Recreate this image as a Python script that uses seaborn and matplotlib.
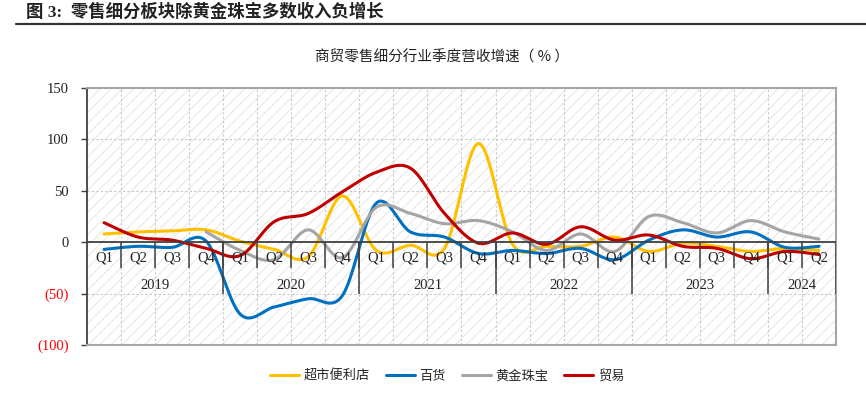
import numpy as np
import pandas as pd
import seaborn as sns
import matplotlib.pyplot as plt
from matplotlib.patches import Rectangle
from matplotlib.lines import Line2D

# quarterly revenue growth (%), Q1 2019 - Q2 2024
quarters = ["Q1", "Q2", "Q3", "Q4"] * 5 + ["Q1", "Q2"]
years = ["2019", "2020", "2021", "2022", "2023", "2024"]
supermarket = [8, 10, 11, 12, 1, -7, -14, 45, -8, -3, -6, 96, -2, -4, -4, 5, -9, -1, -4, -9, -6, -8]
department = [-7, -4, -5, 1, -70, -63, -55, -52, 38, 10, 5, -11, -8, -11, -6, -17, 2, 12, 5, 10, -5, -4]
jewelry = [np.nan, np.nan, np.nan, 10, -8, -17, 12, -15, 34, 28, 18, 21, 10, -8, 8, -9, 25, 19, 9, 21, 10, 3]
trade = [19, 5, 2, -6, -13, 20, 28, 49, 68, 72, 28, -1, 9, -2, 15, 2, 7, -4, -6, -16, -9, -12]

series_names = ["超市便利店", "百货", "黄金珠宝", "贸易"]
colors = ["#FFC000", "#0070C0", "#A5A5A5", "#C00000"]


def smooth(xs, ys, n=30):
    # excel-like smoothed line (bezier through the points)
    xs = np.asarray(xs, float)
    ys = np.asarray(ys, float)
    p = np.column_stack([xs, ys])
    out = []
    for i in range(len(p) - 1):
        p0 = p[i - 1] if i > 0 else p[i]
        p3 = p[i + 2] if i + 2 < len(p) else p[i + 1]
        c1 = p[i] + (p[i + 1] - p0) / 6
        c2 = p[i + 1] - (p3 - p[i]) / 6
        t = np.linspace(0, 1, n)[:, None]
        seg = ((1 - t) ** 3) * p[i] + 3 * ((1 - t) ** 2) * t * c1 + 3 * (1 - t) * t ** 2 * c2 + t ** 3 * p[i + 1]
        out.append(seg if i == 0 else seg[1:])
    out = np.vstack(out)
    return out[:, 0], out[:, 1]


sns.set_theme(style="white")
plt.rcParams["font.family"] = ["Liberation Serif", "Noto Sans CJK SC"]
plt.rcParams["hatch.color"] = "#e6e6e6"
plt.rcParams["hatch.linewidth"] = 0.7

fig = plt.figure(figsize=(8.66, 3.96), dpi=100)
ax = fig.add_axes([87 / 866, 1 - 345 / 396, (836 - 87) / 866, (345 - 88) / 396])

ax.add_patch(Rectangle((0, 0), 1, 1, transform=ax.transAxes, facecolor="white",
                       edgecolor="#e6e6e6", hatch="///", linewidth=0, zorder=0))

n = len(quarters)
ax.set_xlim(-0.5, n - 0.5)
ax.set_ylim(-100, 150)

# grid
for yv in [-50, 50, 100]:
    ax.axhline(yv, color="#c8c8c8", lw=0.8, ls=(0, (2, 2)), zorder=1)
for xv in np.arange(0.5, n - 0.5, 1):
    ax.axvline(xv, color="#c8c8c8", lw=0.8, ls=(0, (2, 2)), zorder=1)

data = [supermarket, department, jewelry, trade]
for name, vals, c in zip(series_names, data, colors):
    df = pd.DataFrame({"x": np.arange(n), "y": vals}).dropna()
    sx, sy = smooth(df["x"], df["y"])
    sns.lineplot(x=sx, y=sy, ax=ax, color=c, lw=2.2, sort=False, estimator=None, zorder=3, label=name)

# zero axis with category labels
ax.axhline(0, color="#404040", lw=1.3, zorder=4)
for i, q in enumerate(quarters):
    ax.text(i, -15.5, q, ha="center", va="center", fontsize=10.5, color="#222222", zorder=5)
ax.vlines(np.arange(0.5, n - 0.5, 1), -25, 0, color="#404040", lw=1.1, zorder=4)
ax.vlines([3.5, 7.5, 11.5, 15.5, 19.5, n - 0.5], -50, 0, color="#404040", lw=1.1, zorder=4)
starts = [0, 4, 8, 12, 16, 20]
ends = [3, 7, 11, 15, 19, 21]
for yr, s, e in zip(years, starts, ends):
    ax.text((s + e) / 2, -42, yr, ha="center", va="center", fontsize=10.5, color="#222222", zorder=5)

ax.set_xticks([])
ax.set_yticks([-100, -50, 0, 50, 100, 150])
ax.set_yticklabels([f"({-v})" if v < 0 else str(v) for v in [-100, -50, 0, 50, 100, 150]])
for lab, v in zip(ax.get_yticklabels(), [-100, -50, 0, 50, 100, 150]):
    lab.set_color("#FF0000" if v < 0 else "#222222")
    lab.set_fontsize(10.5)
ax.tick_params(axis="y", left=True, length=4, width=1, pad=9, color="#404040")

for side in ["top", "right", "bottom"]:
    ax.spines[side].set_color("#a6a6a6")
    ax.spines[side].set_linewidth(1.5)
ax.spines["left"].set_color("#404040")
ax.spines["left"].set_linewidth(1.3)

ax.get_legend().remove()
handles = [Line2D([0], [0], color=c, lw=2.2) for c in colors]
fig.legend(handles, series_names, loc="center", bbox_to_anchor=(447 / 866, 1 - 376 / 396), ncol=4,
           frameon=False, handlelength=2.2, handletextpad=0.35, columnspacing=1.2,
           prop={"family": ["Noto Sans CJK SC"], "size": 9.5})

fig.text(442 / 866, 1 - 57 / 396, "商贸零售细分行业季度营收增速（ % ）", ha="center", va="center",
         fontsize=10.5, family=["Noto Sans CJK SC"], color="#222222")
fig.text(26 / 866, 1 - 12 / 396, "图 3:  零售细分板块除黄金珠宝多数收入负增长", ha="left", va="center",
         fontsize=12.5, fontweight="bold", color="#222222")
fig.add_artist(Line2D([16 / 866, 1], [1 - 24 / 396, 1 - 24 / 396], color="#333333", lw=1.6))

fig.savefig("out.png", dpi=100)
